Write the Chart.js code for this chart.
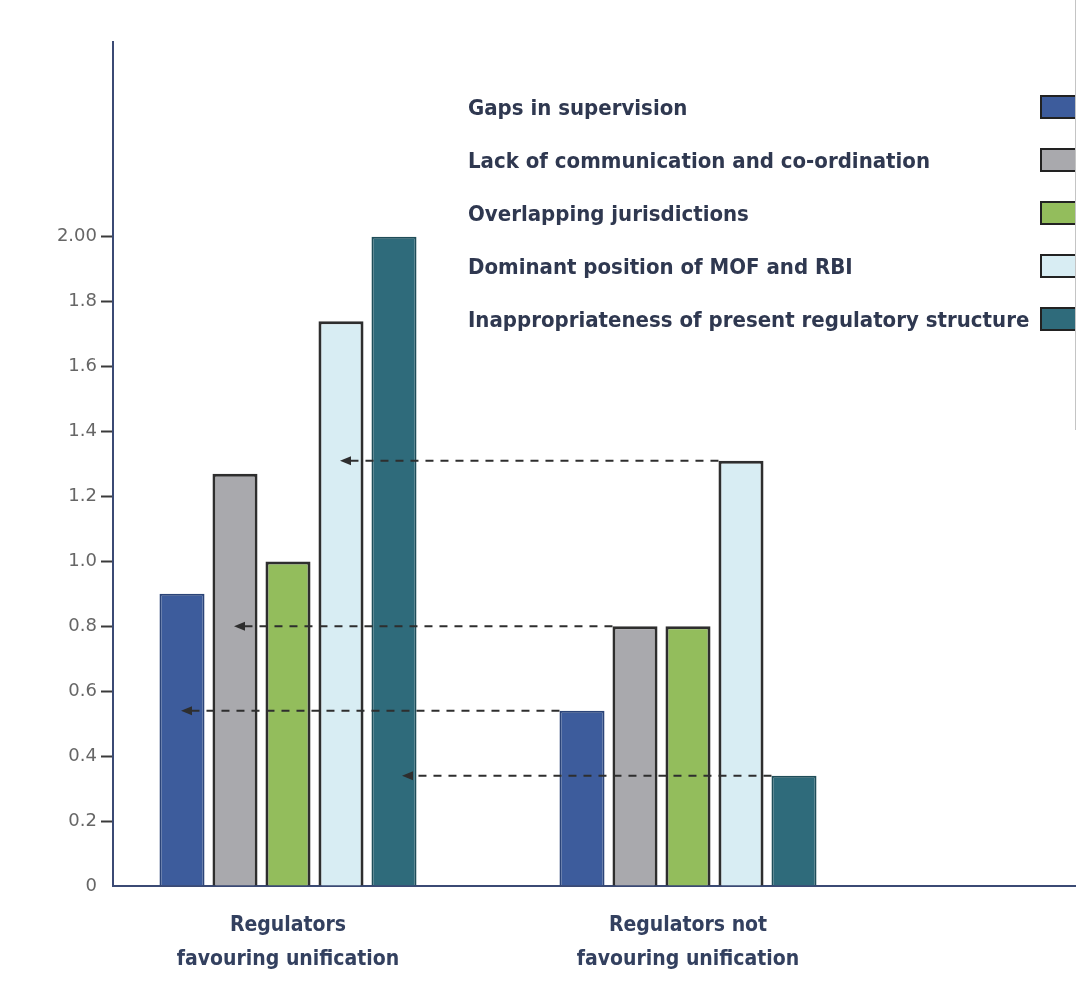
<!DOCTYPE html>
<html>
<head>
<meta charset="utf-8">
<title>Regulators' views on unification</title>
<script src="https://cdn.jsdelivr.net/npm/chart.js@4/dist/chart.umd.min.js"></script>
<style>
  html, body { margin: 0; padding: 0; background: #ffffff; }
  #wrap { position: relative; width: 1076px; height: 981px; }
</style>
</head>
<body>
<div id="wrap"><canvas id="chart" width="1076" height="981"></canvas></div>
<script>
// Groups of respondents
const categories = [
  ['Regulators', 'favouring unification'],
  ['Regulators not', 'favouring unification']
];

// Mean scores per reason, one value per group
const gapsInSupervision      = [0.90, 0.54];
const lackOfCommunication    = [1.27, 0.80];
const overlappingJurisdiction = [1.00, 0.80];
const dominantPosition       = [1.74, 1.31];
const inappropriateStructure = [2.00, 0.34];

const seriesNames = [
  'Gaps in supervision',
  'Lack of communication and co-ordination',
  'Overlapping jurisdictions',
  'Dominant position of MOF and RBI',
  'Inappropriateness of present regulatory structure'
];

// Y axis tick values and their printed labels
const yTickValues = [0, 0.2, 0.4, 0.6, 0.8, 1.0, 1.2, 1.4, 1.6, 1.8, 2.0];
const yTickLabels = ['0', '0.2', '0.4', '0.6', '0.8', '1.0', '1.2', '1.4', '1.6', '1.8', '2.00'];

// Comparison arrows: series index whose second-group value is carried back to the first group
const arrowSeries = [3, 1, 0, 4];

const fills   = ['#3d5c9c', '#a9a9ad', '#93bd5c', '#d8edf3', '#2f6b7b'];
const borders = ['#2b4478', '#2e2e2e', '#2e2e2e', '#2e2e2e', '#1f4d59'];
const borderWidths = [2, 3, 3, 3, 2];

const allSeries = [gapsInSupervision, lackOfCommunication, overlappingJurisdiction, dominantPosition, inappropriateStructure];

const datasets = allSeries.map((vals, i) => ({
  label: seriesNames[i],
  data: vals.map((v, g) => ({ x: g, y: v })),
  backgroundColor: fills[i],
  borderColor: borders[i],
  borderWidth: borderWidths[i],
  categoryPercentage: 0.6625,
  barPercentage: 0.85
}));

const TEXT_FONT = 'bold 22px "Liberation Sans Narrow", "DejaVu Sans Condensed", "Liberation Sans", sans-serif';

// Dashed arrows linking the second group's bars back to the same series in the first group
const arrowPlugin = {
  id: 'arrows',
  afterDatasetsDraw(chart) {
    const ctx = chart.ctx;
    const yScale = chart.scales.y;
    ctx.save();
    ctx.strokeStyle = '#2e2e2e';
    ctx.fillStyle = '#2e2e2e';
    ctx.lineWidth = 2;
    arrowSeries.forEach(si => {
      const meta = chart.getDatasetMeta(si);
      const from = meta.data[1];
      const to = meta.data[0];
      const y = yScale.getPixelForValue(allSeries[si][1]);
      const x1 = from.x - from.width / 2;
      const x0 = to.x + (si === 4 ? 9 : 0);
      ctx.setLineDash([8, 7]);
      ctx.beginPath();
      ctx.moveTo(x1, y);
      ctx.lineTo(x0 + 9, y);
      ctx.stroke();
      ctx.setLineDash([]);
      ctx.beginPath();
      ctx.moveTo(x0 - 1, y);
      ctx.lineTo(x0 + 10, y - 4.5);
      ctx.lineTo(x0 + 10, y + 4.5);
      ctx.closePath();
      ctx.fill();
    });
    ctx.restore();
  },
  afterDraw(chart) {
    // Legend: labels on the left, swatches aligned at the right edge
    const ctx = chart.ctx;
    ctx.save();
    ctx.font = TEXT_FONT;
    ctx.textBaseline = 'middle';
    ctx.textAlign = 'left';
    chart.data.datasets.forEach((ds, i) => {
      const cy = 107 + 53 * i;
      ctx.fillStyle = '#2f3850';
      ctx.fillText(ds.label, 468, cy + 2);
      ctx.fillStyle = ds.backgroundColor;
      ctx.strokeStyle = '#222222';
      ctx.lineWidth = 2;
      ctx.fillRect(1041, cy - 11, 40, 22);
      ctx.strokeRect(1041, cy - 11, 40, 22);
    });
    ctx.strokeStyle = '#c4c4c4';
    ctx.lineWidth = 1;
    ctx.beginPath();
    ctx.moveTo(1075.5, 0);
    ctx.lineTo(1075.5, 430);
    ctx.stroke();
    ctx.restore();
  }
};

new Chart(document.getElementById('chart'), {
  type: 'bar',
  data: { datasets },
  plugins: [arrowPlugin],
  options: {
    responsive: false,
    animation: false,
    layout: { padding: { top: 42, left: 0, right: 0, bottom: 0 } },
    plugins: {
      legend: { display: false },
      tooltip: { enabled: false }
    },
    scales: {
      x: {
        type: 'linear',
        offset: false,
        min: -0.4375,
        max: 1.97,
        afterBuildTicks(scale) { scale.ticks = categories.map((c, i) => ({ value: i })); },
        afterFit(scale) { scale.height = 95; },
        grid: { display: false, drawTicks: false, offset: false },
        border: { display: true, color: '#3b4a74', width: 2 },
        ticks: {
          padding: 23,
          color: '#33405f',
          font: { family: '"Liberation Sans Narrow", "DejaVu Sans Condensed", sans-serif', size: 21, weight: 'bold', lineHeight: 1.6 },
          maxRotation: 0,
          autoSkip: false,
          callback: (v) => categories[v] || ''
        }
      },
      y: {
        min: 0,
        max: 2.6,
        afterBuildTicks(scale) { scale.ticks = yTickValues.map(v => ({ value: v })); },
        afterFit(scale) { scale.width = 113; },
        grid: {
          drawOnChartArea: false,
          drawTicks: true,
          tickLength: 12,
          tickWidth: 2,
          tickColor: (c) => (c.tick && c.tick.value === 0) ? 'rgba(0,0,0,0)' : '#3a3a3a'
        },
        border: { display: true, color: '#3b4a74', width: 2 },
        ticks: {
          padding: 4,
          color: '#666666',
          font: { family: '"DejaVu Sans", sans-serif', size: 18 },
          autoSkip: false,
          callback: (v) => {
            const k = yTickValues.findIndex(t => Math.abs(t - v) < 1e-9);
            return k >= 0 ? yTickLabels[k] : '';
          }
        }
      }
    }
  }
});
</script>
</body>
</html>
